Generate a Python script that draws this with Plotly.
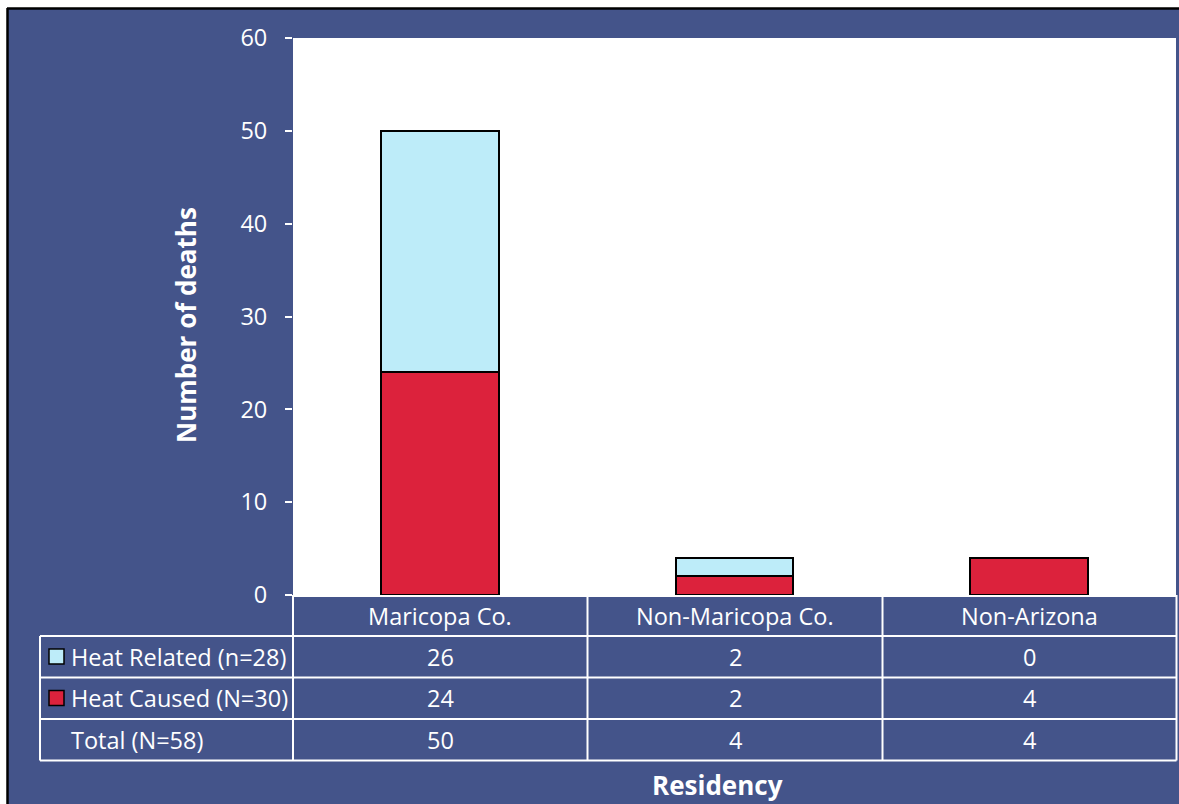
import plotly.graph_objects as go

# Deaths by residency
categories = ["Maricopa Co.", "Non-Maricopa Co.", "Non-Arizona"]
heat_related = [26, 2, 0]
heat_caused = [24, 2, 4]
row_labels = ["Heat Related (n=28)", "Heat Caused (N=30)", "Total (N=58)"]
y_ticks = [0, 10, 20, 30, 40, 50, 60]

totals = [a + b for a, b in zip(heat_related, heat_caused)]

BG = "#44548A"
RED = "#DC223C"
LIGHT = "#BDECF9"
FONT = "Open Sans"

W, H = 1179, 804
L, R, T, B = 293, 3, 38, 209
PW, PH = W - L - R, H - T - B


def px(x):
    return (x - L) / PW


def py(y):
    return (H - B - y) / PH


fig = go.Figure()
fig.add_trace(go.Bar(x=categories, y=heat_caused, name=row_labels[1],
                     marker=dict(color=RED, line=dict(color="black", width=2))))
fig.add_trace(go.Bar(x=categories, y=heat_related, name=row_labels[0],
                     marker=dict(color=LIGHT, line=dict(color="black", width=2))))

shapes = []
ann = []
line = dict(color="white", width=2)

# outer frame: white strip and black border on top/left
shapes.append(dict(type="rect", xref="paper", yref="paper", x0=px(0), x1=px(W), y0=py(0), y1=py(8),
                   fillcolor="white", line=dict(width=0), layer="above"))
shapes.append(dict(type="rect", xref="paper", yref="paper", x0=px(0), x1=px(7), y0=py(0), y1=py(H),
                   fillcolor="white", line=dict(width=0), layer="above"))
shapes.append(dict(type="line", xref="paper", yref="paper", x0=px(7), x1=px(W), y0=py(8.5), y1=py(8.5),
                   line=dict(color="black", width=2.5), layer="above"))
shapes.append(dict(type="line", xref="paper", yref="paper", x0=px(7.5), x1=px(7.5), y0=py(8), y1=py(H),
                   line=dict(color="black", width=2.5), layer="above"))

# data table grid under the plot
row_edges = [595, 636, 677.5, 719, 760.5]
col_edges = [293, 587.5, 882.5, 1176.5]
for ye in row_edges[1:]:
    shapes.append(dict(type="line", xref="paper", yref="paper", x0=px(40), x1=px(1176.5),
                       y0=py(ye), y1=py(ye), line=line, layer="above"))
shapes.append(dict(type="line", xref="paper", yref="paper", x0=px(40), x1=px(40),
                   y0=py(636), y1=py(760.5), line=line, layer="above"))
for xe in col_edges:
    shapes.append(dict(type="line", xref="paper", yref="paper", x0=px(xe), x1=px(xe),
                       y0=py(595), y1=py(760.5), line=line, layer="above"))

# legend swatches inside the table
for yc, col in [(656.5, LIGHT), (698, RED)]:
    shapes.append(dict(type="rect", xref="paper", yref="paper", x0=px(49), x1=px(64),
                       y0=py(yc - 7.5), y1=py(yc + 7.5), fillcolor=col,
                       line=dict(color="black", width=1.5), layer="above"))

tfont = dict(family=FONT, size=23.5, color="white")
row_centers = [615.5, 656.5, 698, 740]
for i, c in enumerate(categories):
    xc = (col_edges[i] + col_edges[i + 1]) / 2
    ann.append(dict(x=px(xc), y=py(row_centers[0]), text=c))
    ann.append(dict(x=px(xc), y=py(row_centers[1]), text=str(heat_related[i])))
    ann.append(dict(x=px(xc), y=py(row_centers[2]), text=str(heat_caused[i])))
    ann.append(dict(x=px(xc), y=py(row_centers[3]), text=str(totals[i])))
for a in ann:
    a.update(xref="paper", yref="paper", showarrow=False, font=tfont,
             xanchor="center", yanchor="middle")
for lbl, yc in zip(row_labels, row_centers[1:]):
    ann.append(dict(x=px(68.5), y=py(yc), text=lbl, xref="paper", yref="paper", showarrow=False,
                    font=tfont, xanchor="left", yanchor="middle"))

bfont = dict(family=FONT, size=26, color="white", weight="bold")
ann.append(dict(x=px(186), y=py(325), text="Number of deaths", textangle=-90, xref="paper",
                yref="paper", showarrow=False, font=bfont, xanchor="center", yanchor="middle"))
ann.append(dict(x=px(717), y=py(785), text="Residency", xref="paper", yref="paper",
                showarrow=False, font=bfont, xanchor="center", yanchor="middle"))

fig.update_layout(
    width=W, height=H,
    margin=dict(l=L, r=R, t=T, b=B, pad=0),
    paper_bgcolor=BG, plot_bgcolor="white",
    barmode="stack", bargap=0.6,
    showlegend=False,
    shapes=shapes, annotations=ann,
    xaxis=dict(range=[-0.5, 2.5], showticklabels=False, ticks="", showgrid=False,
               showline=True, linecolor="white", linewidth=2, zeroline=False),
    yaxis=dict(range=[0, 60], tickvals=y_ticks, showgrid=False, zeroline=False,
               ticks="outside", ticklen=7, tickwidth=2, tickcolor="white",
               showline=False, tickfont=tfont, ticklabelstandoff=13),
)

fig.write_html("out.html")
